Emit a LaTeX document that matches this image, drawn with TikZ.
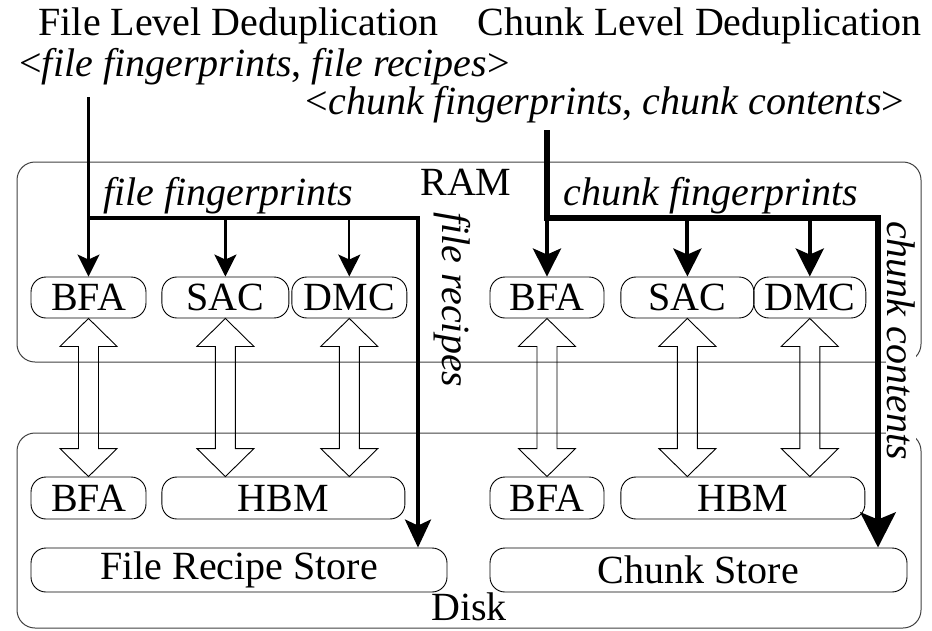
\documentclass[tikz,border=0pt]{standalone}
\usepackage{fontspec}
\setmainfont{Liberation Serif}
\usetikzlibrary{positioning,calc,arrows.meta}

% hollow double arrow between a RAM index and its disk copy
\newcommand{\hollowarrow}[2]{%
  \draw[hollow] (#1.south) -- ++(28.5,-28) -- ++(-18.5,0)
    -- ($(#1.south |- #2.north)+(10,28)$) -- ++(18.5,0)
    -- (#1.south |- #2.north) -- ++(-28.5,28) -- ++(18.5,0)
    -- ($(#1.south)+(-10,-28)$) -- ++(-18.5,0) -- cycle;}

\begin{document}
\begin{tikzpicture}[x=1pt, y=1pt,
      font=\fontsize{40}{48}\selectfont,
      lbl/.style={inner sep=0pt},
      unit/.style={draw, line width=0.9pt, rounded corners=15pt, inner sep=0pt, minimum height=41pt},
      store/.style={unit, minimum height=44pt},
      frame/.style={draw=black!75, line width=1pt, rounded corners=18pt},
      hollow/.style={line width=0.9pt},
      fmain/.style={line width=3.5pt, -{Stealth[length=28pt, width=26pt, inset=6pt]}},
      fbranch/.style={line width=2.2pt, -{Stealth[length=22pt, width=22pt, inset=5pt]}},
      cmain/.style={line width=6pt, -{Stealth[length=35pt, width=35pt, inset=7pt]}},
      cbranch/.style={line width=4pt, -{Stealth[length=28pt, width=28pt, inset=6pt]}}]

      \useasboundingbox (0,0) rectangle (932,-630);

      % RAM and disk frames
      \draw[frame] (17,-162) rectangle (921,-362);
      \draw[frame] (17,-433) rectangle (921,-628);
      \node(ram)[lbl, anchor=base] at (466,-195) {RAM};
      \node(disk)[lbl, anchor=base] at (469,-620) {Disk};

      % headings
      \node(filetitle)[lbl, anchor=base] at (238.5,-35) {File Level Deduplication};
      \node(chunktitle)[lbl, anchor=base] at (699.5,-35) {Chunk Level Deduplication};
      \node(fileinput)[lbl, anchor=base] at (264.5,-76)
          {\textless\textit{file fingerprints}, \textit{file recipes}\textgreater};
      \node(chunkinput)[lbl, anchor=base] at (605,-114)
          {\textless\textit{chunk fingerprints}, \textit{chunk contents}\textgreater};

      % indexes in RAM
      \node(fbfa)[unit, minimum width=115pt] at (88.5,-297.5) {BFA};
      \node(fsac)[unit, minimum width=127pt, right=15pt of fbfa] {SAC};
      \node(fdmc)[unit, minimum width=115pt, right=2pt of fsac] {DMC};
      \node(cbfa)[unit, minimum width=114pt] at (547,-297.5) {BFA};
      \node(csac)[unit, minimum width=133pt, right=16pt of cbfa] {SAC};
      \node(cdmc)[unit, minimum width=112pt, right=-1pt of csac] {DMC};

      % indexes on disk
      \node(dfbfa)[unit, minimum width=115pt, minimum height=42pt] at (88.5,-498) {BFA};
      \node(dfhbm)[unit, minimum width=243pt, minimum height=42pt, right=15pt of dfbfa] {HBM};
      \node(dcbfa)[unit, minimum width=114pt, minimum height=42pt] at (547,-498) {BFA};
      \node(dchbm)[unit, minimum width=244pt, minimum height=42pt, right=16pt of dcbfa] {HBM};

      % stores
      \node(frs)[store, minimum width=416pt] at (239,-570) {File Recipe Store};
      \node(cs)[store, minimum width=417pt] at (698.5,-570) {Chunk Store};

      % RAM <-> disk
      \hollowarrow{fbfa}{dfbfa}
      \hollowarrow{fsac}{dfhbm}
      \hollowarrow{fdmc}{dfhbm}
      \hollowarrow{cbfa}{dcbfa}
      \hollowarrow{csac}{dchbm}
      \hollowarrow{cdmc}{dchbm}

      % side labels
      \node(recipes)[lbl, rotate=-90, anchor=base west] at (442,-212) {\textit{file recipes}};
      \node(contents)[rotate=-90, anchor=base west, fill=white, inner sep=1pt] at (887,-220) {\textit{chunk contents}};

      % file fingerprints and recipes
      \coordinate (fin) at (88.5,-97);
      \coordinate (fturn) at (418,-218);
      \draw[fmain] (fin) |- (fturn) -- (fturn |- frs.north);
      \foreach \n in {fbfa,fsac,fdmc}
          \draw[fbranch] (\n.north |- fturn) -- (\n.north);
      \node(ffp)[lbl, anchor=base] at (228,-205) {\textit{file fingerprints}};

      % chunk fingerprints and contents
      \coordinate (cin) at (547,-130);
      \coordinate (cturn) at (878,-218);
      \draw[cmain] (cin) |- (cturn) -- (cturn |- cs.north);
      \foreach \n in {cbfa,csac,cdmc}
          \draw[cbranch] (\n.north |- cturn) -- (\n.north);
      \node(cfp)[lbl, anchor=base] at (711,-205) {\textit{chunk fingerprints}};

\end{tikzpicture}
\end{document}
